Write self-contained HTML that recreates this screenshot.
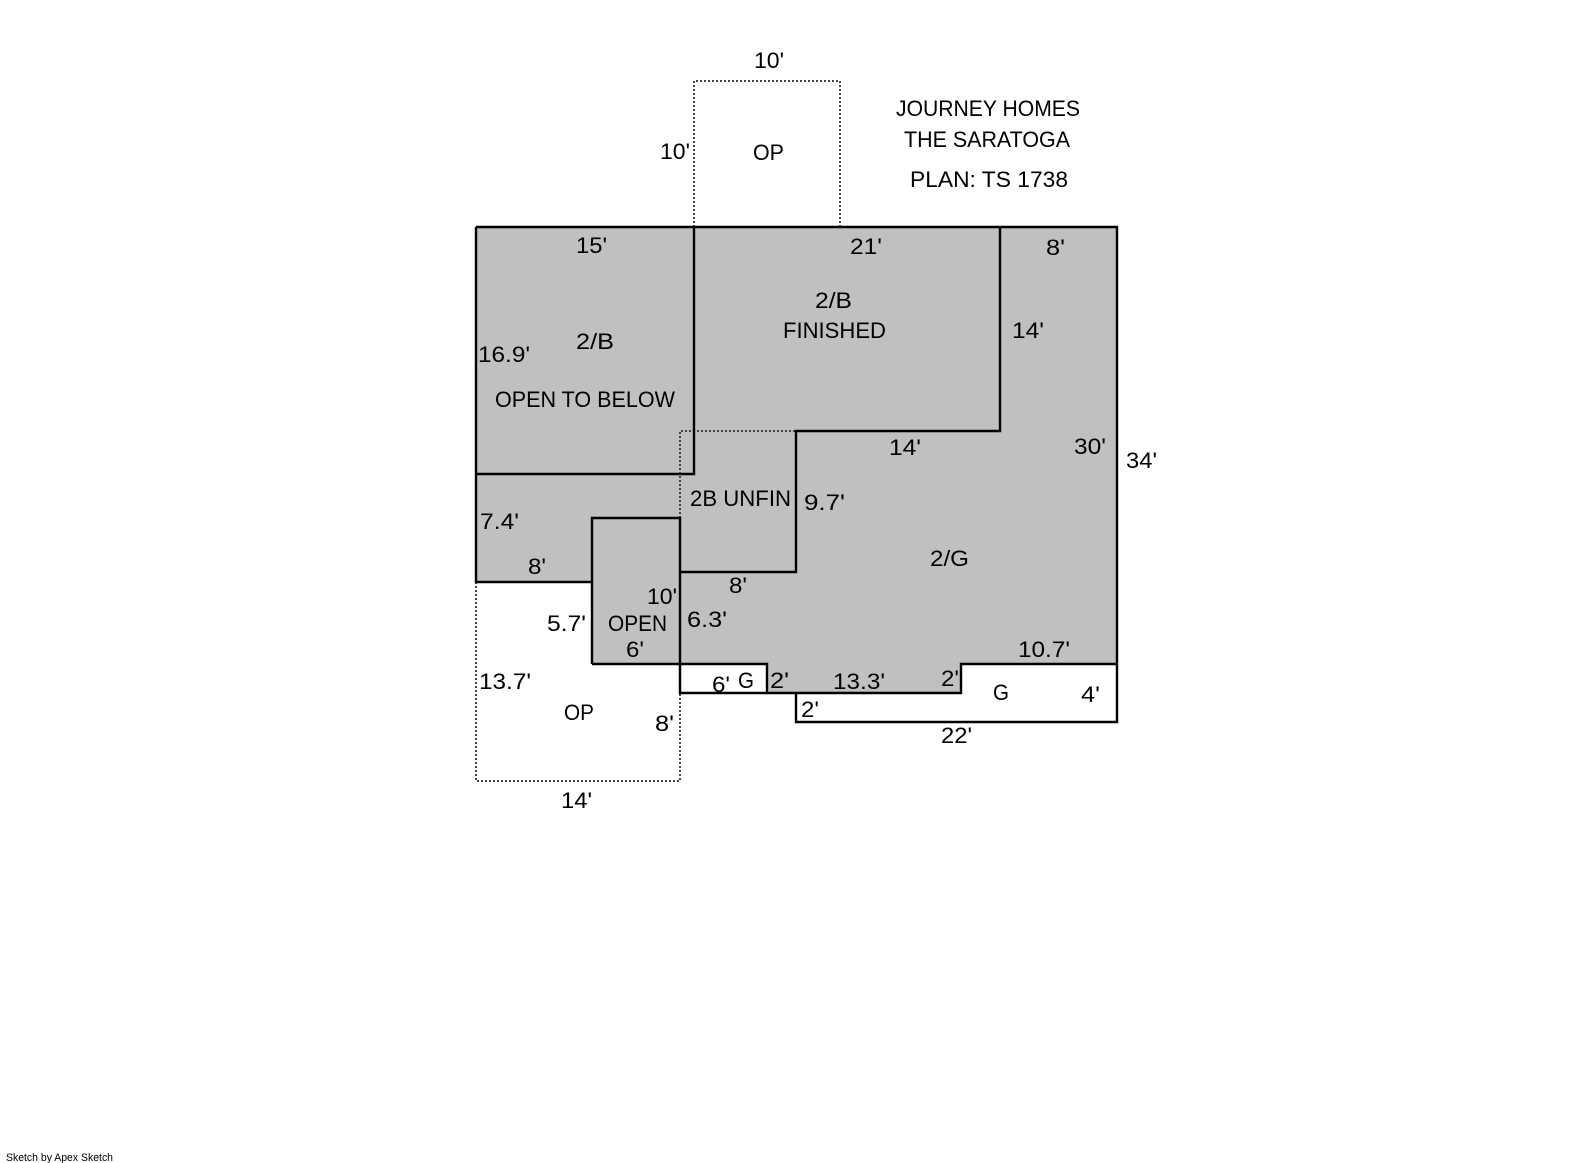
<!DOCTYPE html>
<html>
<head>
<meta charset="utf-8">
<style>
html,body{margin:0;padding:0;background:#fff;}
svg{display:block;}
text{font-family:"Liberation Sans",sans-serif;font-size:22px;fill:#000;}
</style>
</head>
<body>
<svg width="1585" height="1163" viewBox="0 0 1585 1163" xmlns="http://www.w3.org/2000/svg">
<rect width="1585" height="1163" fill="#fff"/>
<polygon points="476,227 1117,227 1117,664 961,664 961,693 767,693 767,664 592,664 592,582 476,582" fill="#c0c0c0"/>
<g fill="none" stroke="#444" stroke-width="2" stroke-dasharray="2 2">
<path d="M694,227V81H840V227"/>
<path d="M680,518V431H796"/>
<path d="M476,582V781H680V693"/>
</g>
<g fill="none" stroke="#000" stroke-width="2.4">
<path d="M476,227H1117V722H796V693"/>
<path d="M1117,664H961V693H680V664H767V693"/>
<path d="M476,227V582H592"/>
<path d="M476,474H694V227"/>
<path d="M1000,227V431H796V572H680"/>
<path d="M592,664V518H680V664"/>
<path d="M592,664H680"/>
</g>
<g>
<text x="754" y="68" textLength="30" lengthAdjust="spacingAndGlyphs">10'</text>
<text x="660" y="159" textLength="30" lengthAdjust="spacingAndGlyphs">10'</text>
<text x="753" y="160" textLength="31" lengthAdjust="spacingAndGlyphs">OP</text>
<text x="896" y="116" textLength="184" lengthAdjust="spacingAndGlyphs">JOURNEY HOMES</text>
<text x="904" y="147" textLength="166" lengthAdjust="spacingAndGlyphs">THE SARATOGA</text>
<text x="910" y="187" textLength="158" lengthAdjust="spacingAndGlyphs">PLAN: TS 1738</text>
<text x="576" y="253" textLength="31" lengthAdjust="spacingAndGlyphs">15'</text>
<text x="850" y="254" textLength="32" lengthAdjust="spacingAndGlyphs">21'</text>
<text x="1046" y="255" textLength="19" lengthAdjust="spacingAndGlyphs">8'</text>
<text x="815" y="308" textLength="37" lengthAdjust="spacingAndGlyphs">2/B</text>
<text x="783" y="338" textLength="103" lengthAdjust="spacingAndGlyphs">FINISHED</text>
<text x="576" y="349" textLength="38" lengthAdjust="spacingAndGlyphs">2/B</text>
<text x="478" y="362" textLength="52" lengthAdjust="spacingAndGlyphs">16.9'</text>
<text x="495" y="407" textLength="180" lengthAdjust="spacingAndGlyphs">OPEN TO BELOW</text>
<text x="1012" y="338" textLength="32" lengthAdjust="spacingAndGlyphs">14'</text>
<text x="889" y="455" textLength="32" lengthAdjust="spacingAndGlyphs">14'</text>
<text x="1074" y="454" textLength="32" lengthAdjust="spacingAndGlyphs">30'</text>
<text x="1126" y="468" textLength="31" lengthAdjust="spacingAndGlyphs">34'</text>
<text x="804" y="510" textLength="41" lengthAdjust="spacingAndGlyphs">9.7'</text>
<text x="690" y="506" textLength="101" lengthAdjust="spacingAndGlyphs">2B UNFIN</text>
<text x="930" y="566" textLength="39" lengthAdjust="spacingAndGlyphs">2/G</text>
<text x="480" y="529" textLength="39" lengthAdjust="spacingAndGlyphs">7.4'</text>
<text x="528" y="574" textLength="18" lengthAdjust="spacingAndGlyphs">8'</text>
<text x="729" y="593" textLength="18" lengthAdjust="spacingAndGlyphs">8'</text>
<text x="647" y="604" textLength="30" lengthAdjust="spacingAndGlyphs">10'</text>
<text x="547" y="631" textLength="39" lengthAdjust="spacingAndGlyphs">5.7'</text>
<text x="608" y="631" textLength="59" lengthAdjust="spacingAndGlyphs">OPEN</text>
<text x="687" y="627" textLength="40" lengthAdjust="spacingAndGlyphs">6.3'</text>
<text x="626" y="657" textLength="18" lengthAdjust="spacingAndGlyphs">6'</text>
<text x="479" y="689" textLength="52" lengthAdjust="spacingAndGlyphs">13.7'</text>
<text x="712" y="692" textLength="18" lengthAdjust="spacingAndGlyphs">6'</text>
<text x="738" y="688" textLength="16" lengthAdjust="spacingAndGlyphs">G</text>
<text x="770" y="688" textLength="19" lengthAdjust="spacingAndGlyphs">2'</text>
<text x="833" y="689" textLength="52" lengthAdjust="spacingAndGlyphs">13.3'</text>
<text x="941" y="686" textLength="18" lengthAdjust="spacingAndGlyphs">2'</text>
<text x="1018" y="657" textLength="52" lengthAdjust="spacingAndGlyphs">10.7'</text>
<text x="993" y="700" textLength="16" lengthAdjust="spacingAndGlyphs">G</text>
<text x="1081" y="702" textLength="19" lengthAdjust="spacingAndGlyphs">4'</text>
<text x="801" y="717" textLength="18" lengthAdjust="spacingAndGlyphs">2'</text>
<text x="564" y="720" textLength="30" lengthAdjust="spacingAndGlyphs">OP</text>
<text x="655" y="731" textLength="19" lengthAdjust="spacingAndGlyphs">8'</text>
<text x="941" y="743" textLength="31" lengthAdjust="spacingAndGlyphs">22'</text>
<text x="561" y="808" textLength="31" lengthAdjust="spacingAndGlyphs">14'</text>
<text x="6" y="1161" textLength="107" lengthAdjust="spacingAndGlyphs" style="font-size:11px">Sketch by Apex Sketch</text>
</g>
</svg>
</body>
</html>
